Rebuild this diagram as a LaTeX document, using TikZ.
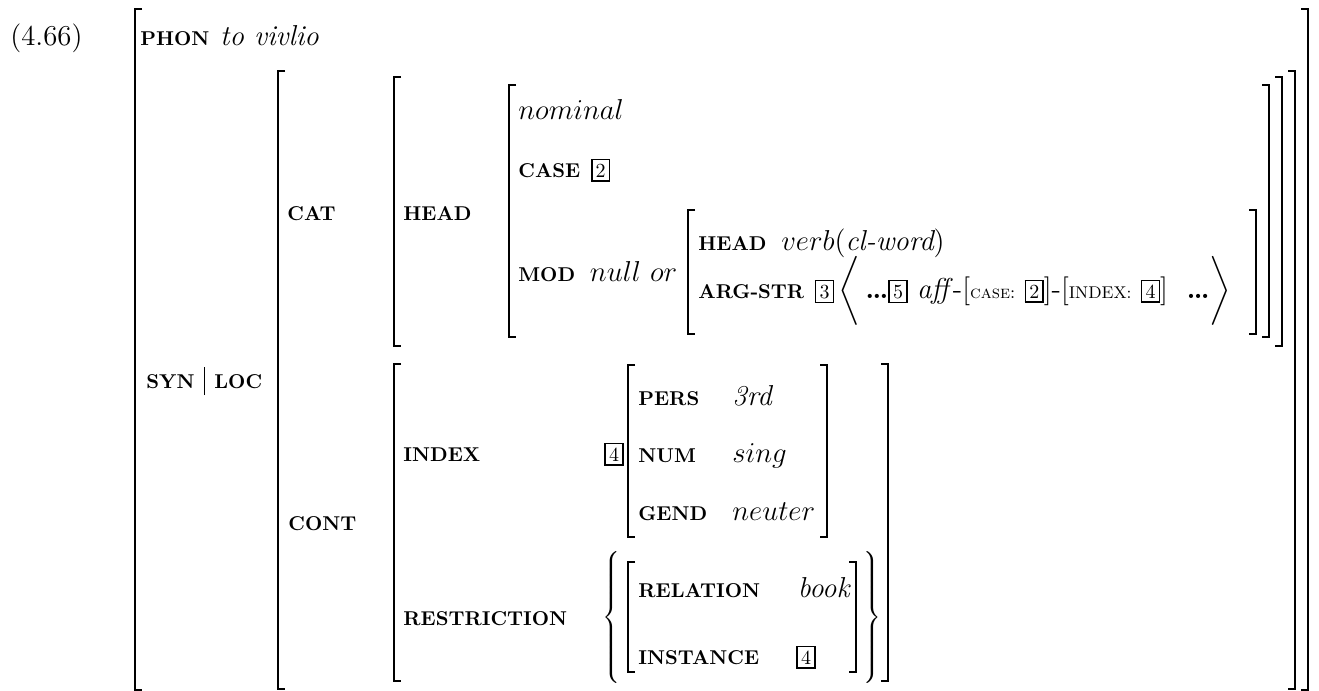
\documentclass[tikz,border=0pt]{standalone}
\usepackage{amsmath}
\usepackage{amssymb}

\newcommand{\tagbox}[1]{{\setlength{\fboxsep}{1.6pt}\setlength{\fboxrule}{0.7pt}\fbox{\fontsize{10}{11}\selectfont #1}}}
\newcommand{\lbrak}[3]{\draw[brk] (#1+7,#2) -- (#1,#2) -- (#1,#3) -- (#1+7,#3);}
\newcommand{\rbrak}[3]{\draw[brk] (#1-7,#2) -- (#1,#2) -- (#1,#3) -- (#1-7,#3);}

\begin{document}
\begin{tikzpicture}[x=0.5pt,y=-0.5pt,
    feat/.style={anchor=base west,inner sep=0pt,font=\fontsize{10}{12}\selectfont\bfseries},
    val/.style={anchor=base west,inner sep=0pt,font=\fontsize{14.4}{17}\selectfont},
    tag/.style={anchor=base west,inner sep=0pt,font=\fontsize{14.4}{17}\selectfont},
    brk/.style={line width=0.8pt}]
            \useasboundingbox (0,0) rectangle (1319,691);

            % brackets
            \lbrak{135}{9}{690}   \rbrak{1308}{9}{690}
            \lbrak{278}{71}{689}  \rbrak{1295}{71}{689}
            \lbrak{394}{77}{346}  \rbrak{1282}{77}{346}
            \lbrak{509}{85}{337}  \rbrak{1269}{85}{337}
            \lbrak{688}{210}{334} \rbrak{1256}{210}{334}
            \lbrak{394}{364}{681} \rbrak{888}{364}{681}
            \lbrak{628}{365}{537} \rbrak{827}{365}{537}
            \lbrak{628}{562}{672} \rbrak{856}{562}{672}

            \node (exnum) at (10,45) [val] {(4.66)};
            \node (phon) at (140,45) [feat] {PHON};
            \node (phonval) at ([xshift=5pt]phon.base east) [val] {\itshape to vivlio};

            \node (syn) at (146,388) [feat] {SYN};
            \node (loc) at (214,388) [feat] {LOC};
            \draw[line width=0.5pt] ([xshift=5pt,yshift=-3.5pt]syn.base east) -- ++(0,14pt);

            \node (cat) at (287,220) [feat] {CAT};
            \node (head) at (403,220) [feat] {HEAD};
            \node (nominal) at (518,119) [val] {$nominal$};
            \node (case) at (518,177) [feat] {CASE};
            \node (casetag) at ([xshift=5pt]case.base east) [tag] {\tagbox{2}};
            \node (mod) at (518,281) [feat] {MOD};
            \node (modval) at ([xshift=7pt]mod.base east) [val] {$null\ or$};
            \node (vhead) at (698,250) [feat] {HEAD};
            \node (verb) at ([xshift=7pt]vhead.base east) [val] {$verb(\textit{cl-word})$};
            \node (argstr) at (698,298) [feat] {ARG-STR};
            \node (argtag) at ([xshift=5pt]argstr.base east) [tag] {\tagbox{3}};
            \node (arglist) at ([xshift=2pt]argtag.base east) [val] {$\bigg\langle$\,{\bfseries\ldots}\tagbox{5}\ \textit{aff}-[{\fontsize{9}{11}\selectfont\textsc{case}:}\ \tagbox{2}]-[{\fontsize{8.5}{11}\selectfont INDEX:}\ \tagbox{4}]\ \ {\bfseries\ldots}$\bigg\rangle$};

            \node (cont) at (288,530) [feat] {CONT};
            \node (index) at (403,461) [feat] {INDEX};
            \node (indextag) at (604,461) [tag] {\tagbox{4}};
            \node (pers) at (638,405) [feat] {PERS};
            \node (persval) at (732,405) [val] {\itshape 3rd};
            \node (numf) at (638,462) [feat] {NUM};
            \node (numval) at (732,462) [val] {$sing$};
            \node (gend) at (638,520) [feat] {GEND};
            \node (gendval) at (732,520) [val] {$neuter$};

            \node (restr) at (403,625) [feat] {RESTRICTION};
            \node (lbrace) at (613,618) [anchor=center,inner sep=0pt] {$\left\{\vrule height 31pt depth 31pt width 0pt\right.$};
            \node (rbrace) at (871,618) [anchor=center,inner sep=0pt] {$\left.\vrule height 31pt depth 31pt width 0pt\right\}$};
            \node (rel) at (638,597) [feat] {RELATION};
            \node (relval) at (850,597) [val,anchor=base east] {\itshape book};
            \node (inst) at (638,664) [feat] {INSTANCE};
            \node (insttag) at (796,664) [tag] {\tagbox{4}};

        \end{tikzpicture}
\end{document}
